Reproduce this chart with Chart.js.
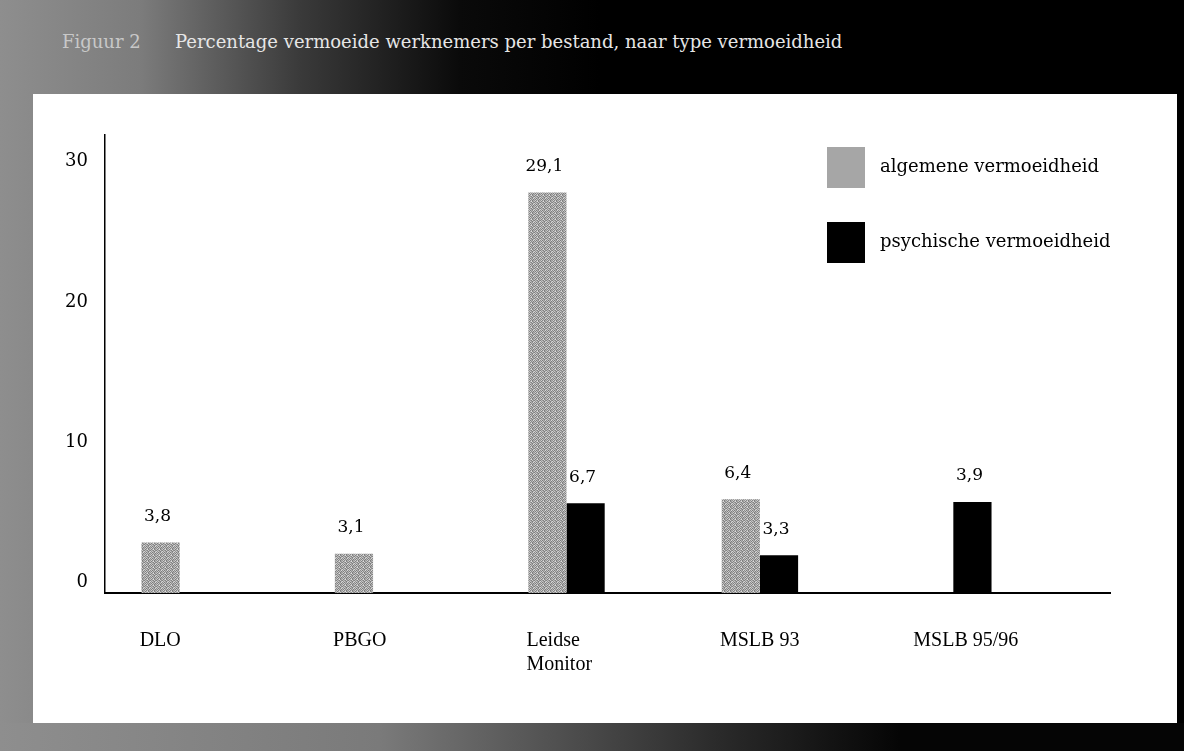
<!DOCTYPE html>
<html>
<head>
<meta charset="utf-8">
<script src="https://cdn.jsdelivr.net/npm/chart.js@4/dist/chart.umd.min.js"></script>
<style>
    html, body { margin: 0; padding: 0; }
    body {
        width: 1184px; height: 751px; overflow: hidden; position: relative;
        background: linear-gradient(to right, #8e8e8e 0px, #7c7c7c 140px, #3a3a3a 300px, #0a0a0a 460px, #000 600px);
    }
    #bottom-band {
        position: absolute; left: 0; top: 723px; width: 1184px; height: 28px;
        background: linear-gradient(to right, #8e8e8e 0px, #7a7a7a 380px, #2a2a2a 720px, #050505 900px);
    }
    #panel {
        position: absolute; left: 33px; top: 94px; width: 1144px; height: 629px; background: #fff;
    }
    #title {
        position: absolute; top: 31px; left: 62px; color: #e6e6e6;
        font-family: "DejaVu Serif", serif; font-size: 18px; white-space: nowrap;
    }
    #title span { display: inline-block; width: 113px; color: #c8c8c8; }
    #chart-wrap { position: absolute; left: 0; top: 0; width: 1184px; height: 751px; }
    #legend { position: absolute; left: 827px; top: 147px; font-family: "DejaVu Serif", serif; font-size: 18px; }
    .leg-item { position: relative; height: 75px; }
    .leg-box { position: absolute; left: 0; top: 0; width: 38px; height: 41px; }
    .leg-text { position: absolute; left: 53px; top: 8px; white-space: nowrap; color: #000; }
</style>
</head>
<body>
<div id="bottom-band"></div>
<div id="panel"></div>
<div id="title"><span>Figuur 2</span>Percentage vermoeide werknemers per bestand, naar type vermoeidheid</div>
<div id="chart-wrap"><canvas id="figChart" width="1184" height="751"></canvas></div>
<div id="legend"></div>
<script>
const categories = ['DLO', 'PBGO', ['Leidse', 'Monitor'], 'MSLB 93', 'MSLB 95/96'];
const seriesNames = ['algemene vermoeidheid', 'psychische vermoeidheid'];
// bar heights as drawn in the figure
const algemene = [3.6, 2.8, 28.6, 6.7, null];
const psychische = [null, null, 6.4, 2.7, 6.5];
// values printed above the bars
const algemeneLabels = ['3,8', '3,1', '29,1', '6,4', null];
const psychischeLabels = [null, null, '6,7', '3,3', '3,9'];
const yTicks = [0, 10, 20, 30];

// speckled grey fill like the scanned print
function speckle() {
    const c = document.createElement('canvas');
    c.width = 6; c.height = 6;
    const g = c.getContext('2d');
    const shades = [
        '#8a8a8a', '#c8c8c8', '#7a7a7a', '#b0b0b0', '#909090', '#d8d8d8',
        '#b8b8b8', '#808080', '#cfcfcf', '#8c8c8c', '#bdbdbd', '#7e7e7e',
        '#959595', '#d0d0d0', '#868686', '#c0c0c0', '#7c7c7c', '#acacac',
        '#c4c4c4', '#7f7f7f', '#b4b4b4', '#e0e0e0', '#888888', '#9c9c9c',
        '#828282', '#bcbcbc', '#9a9a9a', '#848484', '#cccccc', '#8e8e8e',
        '#d4d4d4', '#929292', '#c6c6c6', '#a0a0a0', '#7b7b7b', '#b6b6b6'
    ];
    shades.forEach((s, i) => {
        g.fillStyle = s;
        g.fillRect(i % 6, Math.floor(i / 6), 1, 1);
    });
    return g.createPattern(c, 'repeat');
}

const greyFill = speckle();
const fills = [greyFill, '#000000'];

// legend built from the series
document.getElementById('legend').innerHTML = seriesNames.map((name, i) => `
    <div class="leg-item">
        <div class="leg-box" style="background:${i === 0 ? '#a6a6a6' : '#000'}"></div>
        <div class="leg-text">${name}</div>
    </div>
`).join('');

const valueLabels = {
    id: 'valueLabels',
    afterDatasetsDraw(chart) {
        const ctx = chart.ctx;
        const labelSets = [algemeneLabels, psychischeLabels];
        ctx.save();
        ctx.font = '17px "DejaVu Serif"';
        ctx.fillStyle = '#000';
        ctx.textAlign = 'center';
        ctx.textBaseline = 'middle';
        chart.data.datasets.forEach((ds, di) => {
            chart.getDatasetMeta(di).data.forEach((bar, i) => {
                const txt = labelSets[di][i];
                if (!txt) return;
                ctx.fillText(txt, bar.x - 3, bar.y - 26);
            });
        });
        ctx.restore();
    }
};

const ctx = document.getElementById('figChart').getContext('2d');
new Chart(ctx, {
    type: 'bar',
    data: {
        datasets: [
            {
                label: seriesNames[0],
                data: algemene.map((v, i) => ({ x: i, y: v })),
                backgroundColor: fills[0],
                categoryPercentage: 0.395,
                barPercentage: 1.0
            },
            {
                label: seriesNames[1],
                data: psychische.map((v, i) => ({ x: i, y: v })),
                backgroundColor: fills[1],
                categoryPercentage: 0.395,
                barPercentage: 1.0
            }
        ]
    },
    options: {
        responsive: false,
        animation: false,
        layout: { padding: { left: 0, top: 135, right: 74, bottom: 0 } },
        plugins: {
            legend: { display: false },
            tooltip: { enabled: false }
        },
        scales: {
            x: {
                type: 'linear',
                min: -0.386,
                max: 4.81,
                offset: false,
                afterBuildTicks: s => { s.ticks = categories.map((c, i) => ({ value: i })); },
                afterFit: s => { s.height = 158; },
                grid: { display: false, drawTicks: false },
                border: { display: true, color: '#000', width: 2 },
                ticks: {
                    color: '#000',
                    font: { family: 'Liberation Serif', size: 20 },
                    padding: 36,
                    align: 'start',
                    labelOffset: -40,
                    maxRotation: 0,
                    autoSkip: false,
                    callback: v => categories[v]
                }
            },
            y: {
                min: 0,
                max: 32.7,
                afterBuildTicks: s => { s.ticks = yTicks.map(v => ({ value: v })); },
                afterFit: s => { s.width = 105; },
                grid: { display: false, drawTicks: false },
                border: { display: true, color: '#000', width: 1.5 },
                ticks: {
                    color: '#000',
                    font: { family: 'DejaVu Serif', size: 18 },
                    padding: 17,
                    labelOffset: -11
                }
            }
        }
    },
    plugins: [valueLabels]
});
</script>
</body>
</html>
